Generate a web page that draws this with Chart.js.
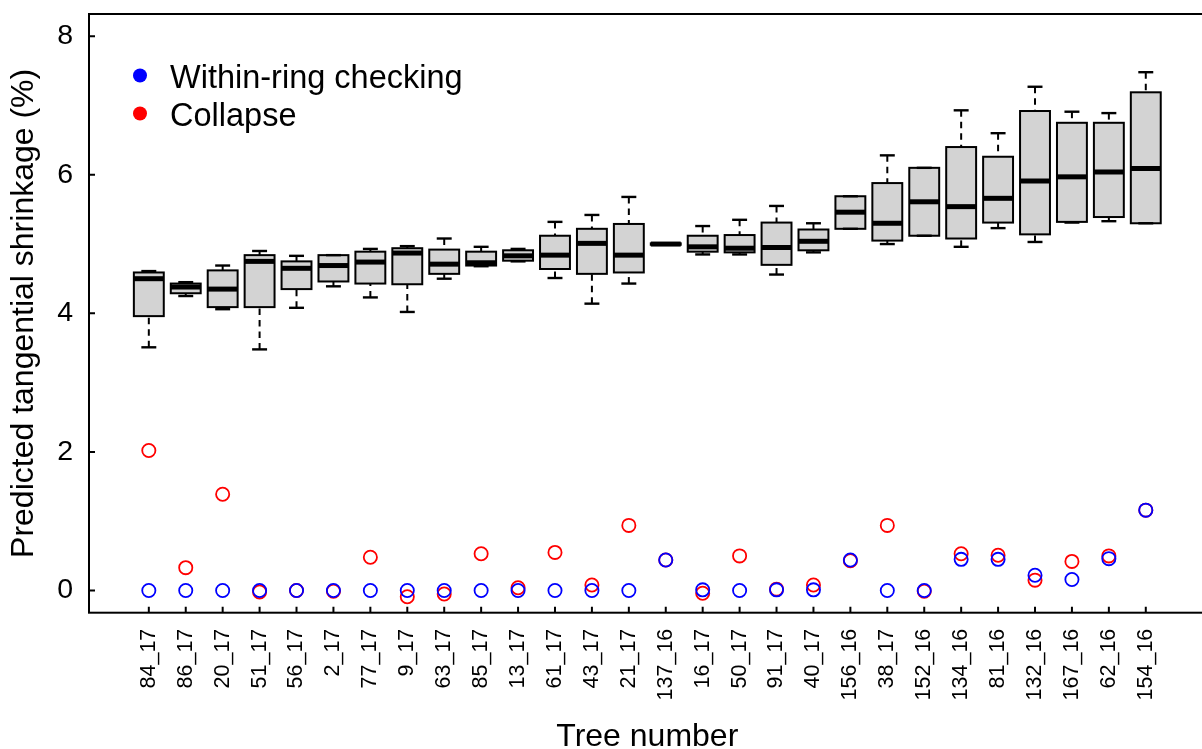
<!DOCTYPE html>
<html>
<head>
<meta charset="utf-8">
<title>Predicted tangential shrinkage by tree</title>
<script src="https://cdn.jsdelivr.net/npm/chart.js@4.4.1/dist/chart.umd.min.js"></script>
<style>
  html, body { margin: 0; padding: 0; background: #fff; overflow: hidden; }
  #wrap { width: 1214px; height: 760px; }
</style>
</head>
<body>
<div id="wrap"><canvas id="shrink-chart"></canvas></div>
<script>
// trees, in the order they are plotted
const treeNames = ['84_17', '86_17', '20_17', '51_17', '56_17', '2_17', '77_17', '9_17', '63_17', '85_17',
  '13_17', '61_17', '43_17', '21_17', '137_16', '16_17', '50_17', '91_17', '40_17', '156_16',
  '38_17', '152_16', '134_16', '81_16', '132_16', '167_16', '62_16', '154_16'];

// box statistics (%)
const boxMin = [3.51, 4.25, 4.06, 3.48, 4.08, 4.39, 4.23, 4.02, 4.50, 4.68,
  4.75, 4.51, 4.14, 4.43, 4.99, 4.85, 4.85, 4.56, 4.88, 5.22,
  5.00, 5.12, 4.96, 5.23, 5.03, 5.31, 5.33, 5.30];
const boxQ1 = [3.96, 4.29, 4.09, 4.09, 4.35, 4.46, 4.43, 4.42, 4.57, 4.69,
  4.76, 4.64, 4.57, 4.59, 4.99, 4.89, 4.88, 4.70, 4.91, 5.22,
  5.05, 5.12, 5.08, 5.31, 5.14, 5.32, 5.39, 5.30];
const boxMedian = [4.50, 4.38, 4.35, 4.75, 4.65, 4.69, 4.74, 4.87, 4.71, 4.73,
  4.83, 4.84, 5.01, 4.84, 5.00, 4.96, 4.94, 4.95, 5.04, 5.46,
  5.30, 5.61, 5.54, 5.66, 5.91, 5.97, 6.04, 6.09];
const boxQ3 = [4.59, 4.43, 4.62, 4.84, 4.75, 4.84, 4.89, 4.94, 4.92, 4.89,
  4.91, 5.12, 5.22, 5.29, 5.01, 5.12, 5.13, 5.31, 5.21, 5.69,
  5.88, 6.10, 6.40, 6.26, 6.92, 6.75, 6.75, 7.19];
const boxMax = [4.61, 4.45, 4.69, 4.90, 4.83, 4.84, 4.93, 4.97, 5.08, 4.96,
  4.93, 5.32, 5.42, 5.68, 5.01, 5.26, 5.35, 5.55, 5.30, 5.69,
  6.28, 6.10, 6.93, 6.60, 7.27, 6.91, 6.89, 7.48];

// defect values per tree
const checkingValues = [0, 0, 0, 0, 0, 0, 0, 0, 0, 0,
  0, 0, 0, 0, 0.44, 0.01, 0, 0.01, 0.01, 0.44,
  0, 0, 0.45, 0.45, 0.22, 0.16, 0.46, 1.16];
const collapseValues = [2.02, 0.33, 1.39, -0.02, 0, -0.01, 0.48, -0.09, -0.05, 0.53,
  0.04, 0.55, 0.08, 0.94, 0.44, -0.04, 0.50, 0.02, 0.08, 0.43,
  0.94, -0.01, 0.53, 0.51, 0.15, 0.42, 0.50, 1.16];

const yTickValues = [0, 2, 4, 6, 8];

const legendItems = [
  { text: 'Within-ring checking', color: '#0000FF' },
  { text: 'Collapse', color: '#FF0000' }
];

const FONT = "'Liberation Sans', Arial, sans-serif";
Chart.defaults.font.family = FONT;
Chart.defaults.color = '#000';

// whiskers, caps and medians on top of the floating bars
const boxExtras = {
  id: 'boxExtras',
  afterDatasetsDraw(chart) {
    const ctx = chart.ctx;
    const xs = chart.scales.x, ys = chart.scales.y;
    const bars = chart.getDatasetMeta(2).data;
    const seg = (x1, y1, x2, y2) => { ctx.beginPath(); ctx.moveTo(x1, y1); ctx.lineTo(x2, y2); ctx.stroke(); };
    ctx.save();
    ctx.strokeStyle = '#000';
    treeNames.forEach((name, i) => {
      const cx = xs.getPixelForValue(i + 1);
      const hw = bars[i].width / 2;
      const yMin = ys.getPixelForValue(boxMin[i]);
      const yQ1 = ys.getPixelForValue(boxQ1[i]);
      const yMed = ys.getPixelForValue(boxMedian[i]);
      const yQ3 = ys.getPixelForValue(boxQ3[i]);
      const yMax = ys.getPixelForValue(boxMax[i]);
      ctx.lineWidth = 2;
      ctx.lineCap = 'butt';
      ctx.setLineDash([6.5, 5]);
      if (yMax < yQ3) seg(cx, yMax, cx, yQ3);
      if (yMin > yQ1) seg(cx, yMin, cx, yQ1);
      ctx.setLineDash([]);
      ctx.lineWidth = 2.4;
      seg(cx - hw / 2, yMax, cx + hw / 2, yMax);
      seg(cx - hw / 2, yMin, cx + hw / 2, yMin);
      // box outline drawn again, centred on the edges like R does
      ctx.lineWidth = 2;
      ctx.strokeRect(cx - hw, yQ3, hw * 2, yQ1 - yQ3);
      ctx.lineWidth = 5;
      seg(cx - hw, yMed, cx + hw, yMed);
    });
    ctx.restore();
  }
};

// frame, inward ticks and the legend in the top left corner
const frameAndLegend = {
  id: 'frameAndLegend',
  afterDraw(chart) {
    const { ctx, chartArea: a, scales: { x, y } } = chart;
    ctx.save();
    ctx.strokeStyle = '#000';
    ctx.lineWidth = 2;
    ctx.strokeRect(a.left, a.top, a.right - a.left, a.bottom - a.top);
    ctx.beginPath();
    y.ticks.forEach(t => {
      const py = y.getPixelForValue(t.value);
      ctx.moveTo(a.left, py); ctx.lineTo(a.left + 6, py);
    });
    x.ticks.forEach(t => {
      const px = x.getPixelForValue(t.value);
      ctx.moveTo(px, a.bottom); ctx.lineTo(px, a.bottom - 6);
    });
    ctx.stroke();

    ctx.font = '32.5px ' + FONT;
    ctx.textBaseline = 'alphabetic';
    ctx.textAlign = 'left';
    legendItems.forEach((item, i) => {
      const cy = 75.5 + i * 38;
      ctx.fillStyle = item.color;
      ctx.beginPath();
      ctx.arc(140, cy, 7, 0, Math.PI * 2);
      ctx.fill();
      ctx.fillStyle = '#000';
      ctx.fillText(item.text, 170, cy + 12);
    });
    ctx.restore();
  }
};

const ctx = document.getElementById('shrink-chart').getContext('2d');
const shrinkChart = new Chart(ctx, {
  type: 'bar',
  data: {
    datasets: [
      {
        type: 'scatter',
        label: 'Within-ring checking',
        data: checkingValues.map((v, i) => ({ x: i + 1, y: v })),
        pointRadius: 6.6,
        pointHoverRadius: 6.6,
        pointBorderWidth: 1.8,
        pointBorderColor: '#0000FF',
        pointBackgroundColor: 'rgba(0,0,0,0)'
      },
      {
        type: 'scatter',
        label: 'Collapse',
        data: collapseValues.map((v, i) => ({ x: i + 1, y: v })),
        pointRadius: 6.6,
        pointHoverRadius: 6.6,
        pointBorderWidth: 1.8,
        pointBorderColor: '#FF0000',
        pointBackgroundColor: 'rgba(0,0,0,0)'
      },
      {
        label: 'Predicted tangential shrinkage',
        data: treeNames.map((n, i) => ({ x: i + 1, y: [boxQ1[i], boxQ3[i]] })),
        backgroundColor: '#D3D3D3',
        borderColor: '#000',
        borderWidth: 0,
        borderSkipped: false,
        categoryPercentage: 1,
        barPercentage: 0.81
      }
    ]
  },
  options: {
    responsive: true,
    maintainAspectRatio: false,
    animation: false,
    devicePixelRatio: 1,
    layout: { padding: { top: 14, right: 3, left: 0, bottom: 0 } },
    plugins: {
      legend: { display: false },
      tooltip: { enabled: false }
    },
    scales: {
      x: {
        type: 'linear',
        offset: false,
        min: -0.62,
        max: 29.62,
        grid: { display: false, drawTicks: false },
        border: { display: false },
        afterBuildTicks(scale) {
          scale.ticks = treeNames.map((n, i) => ({ value: i + 1 }));
        },
        afterFit(scale) {
          scale.height = 147.3;
          scale.paddingLeft = 0;
          scale.paddingRight = 0;
        },
        ticks: {
          autoSkip: false,
          minRotation: 90,
          maxRotation: 90,
          padding: 16,
          font: { size: 21.5 },
          callback: (value) => treeNames[value - 1]
        },
        title: {
          display: true,
          text: 'Tree number',
          font: { size: 32 },
          padding: { top: 0, bottom: 4 }
        }
      },
      y: {
        type: 'linear',
        min: -0.32,
        max: 8.32,
        grid: { display: false, drawTicks: false },
        border: { display: false },
        afterBuildTicks(scale) {
          scale.ticks = yTickValues.map(v => ({ value: v }));
        },
        afterFit(scale) {
          scale.width = 89;
          scale.paddingTop = 0;
          scale.paddingBottom = 0;
        },
        ticks: {
          padding: 16,
          font: { size: 28.5 }
        },
        title: {
          display: true,
          text: 'Predicted tangential shrinkage (%)',
          font: { size: 32 },
          padding: { top: 5, bottom: 0 }
        }
      }
    }
  },
  plugins: [boxExtras, frameAndLegend]
});
</script>
</body>
</html>
